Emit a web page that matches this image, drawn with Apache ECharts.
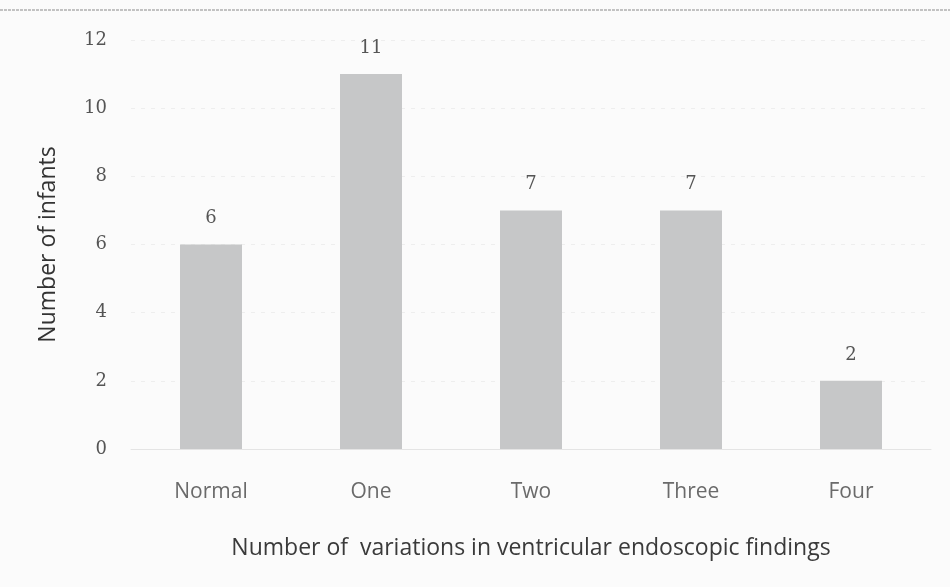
<!DOCTYPE html>
<html><head><meta charset="utf-8">
<script src="https://cdn.jsdelivr.net/npm/echarts@6/dist/echarts.min.js"></script>
<style>html,body{margin:0;padding:0;background:#fbfbfb}#c{width:950px;height:587px}</style>
</head><body><div id="c"></div>
<script>
const categories = ['Normal', 'One', 'Two', 'Three', 'Four'];
const infants = [6, 11, 7, 7, 2];
const yTicks = { min: 0, max: 12, interval: 2 };
const xTitle = 'Number of  variations in ventricular endoscopic findings';
const yTitle = 'Number of infants';

const chart = echarts.init(document.getElementById('c'), null, { renderer: 'canvas' });
chart.setOption({
  backgroundColor: '#fbfbfb',
  animation: false,
  graphic: [{
    type: 'line', shape: { x1: 0, y1: 10, x2: 950, y2: 10 },
    style: { stroke: '#b0b0b0', lineWidth: 1.5, lineDash: [3, 1] }
  }],
  grid: { left: 131, right: 19, top: 40, bottom: 138 },
  xAxis: {
    type: 'category', data: categories,
    axisTick: { show: false },
    axisLine: { show: true, lineStyle: { color: '#e4e4e4', width: 1 } },
    axisLabel: { color: '#6a6a6a', fontFamily: 'Open Sans', fontSize: 21, margin: 33 },
    name: xTitle, nameLocation: 'middle', nameGap: 88,
    nameTextStyle: { color: '#3a3a3a', fontFamily: 'Open Sans', fontSize: 23 }
  },
  yAxis: {
    type: 'value', min: yTicks.min, max: yTicks.max, interval: yTicks.interval,
    axisLine: { show: false }, axisTick: { show: false },
    splitLine: { lineStyle: { color: '#eeeeee', type: [4, 6] } },
    axisLabel: { color: '#555', fontFamily: 'DejaVu Serif', fontSize: 18, margin: 24 },
    name: yTitle, nameLocation: 'middle', nameGap: 71,
    nameTextStyle: { color: '#333', fontFamily: 'Open Sans', fontSize: 23 }
  },
  series: [{
    type: 'bar', data: infants, barWidth: 62,
    itemStyle: { color: '#c6c7c8' },
    label: { show: true, position: 'top', distance: 17, color: '#555', fontFamily: 'DejaVu Serif', fontSize: 18 }
  }]
});
</script></body></html>
